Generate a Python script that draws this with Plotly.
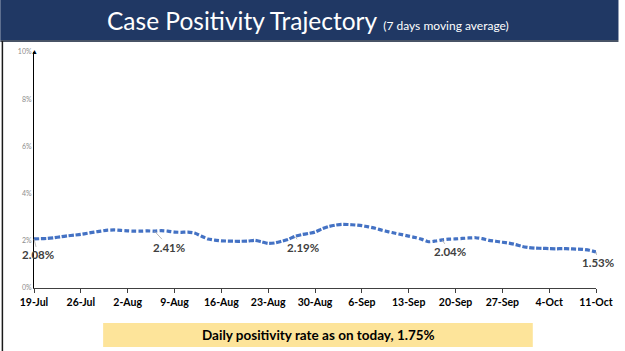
import plotly.graph_objects as go
import pandas as pd

start_date = "2020-07-19"
positivity = [
    2.08, 2.09, 2.10, 2.13, 2.17, 2.21, 2.24,
    2.27, 2.32, 2.37, 2.41, 2.45, 2.46, 2.44,
    2.42, 2.41, 2.41, 2.42, 2.41, 2.43, 2.41,
    2.37, 2.36, 2.37, 2.33, 2.20, 2.08, 2.03,
    2.00, 1.99, 1.98, 1.98, 1.99, 2.02, 1.96,
    1.89, 1.91, 1.98, 2.06, 2.19, 2.26, 2.31,
    2.37, 2.50, 2.60, 2.66, 2.70, 2.69, 2.67,
    2.64, 2.59, 2.53, 2.45, 2.38, 2.32, 2.26,
    2.20, 2.14, 2.06, 1.96, 1.99, 2.04, 2.07,
    2.08, 2.10, 2.12, 2.13, 2.09, 2.02, 1.98,
    1.94, 1.90, 1.84, 1.76, 1.71, 1.69, 1.68,
    1.67, 1.66, 1.67, 1.66, 1.65, 1.64, 1.60,
    1.53,
]
dates = pd.date_range(start_date, periods=len(positivity), freq="D")

tick_dates = pd.date_range(start_date, periods=13, freq="7D")
tick_labels = [d.strftime("%-d-%b") for d in tick_dates]

y_ticks = [0, 2, 4, 6, 8, 10]
y_tick_labels = ["0%", "2%", "4%", "6%", "8%", "10%"]

label_idx = [0, 18, 39, 61, 84]
label_offsets = [(4, 16), (15, 16), (8, 11), (8, 12), (2, 11)]

title_main = "Case Positivity Trajectory"
title_sub = "(7 days moving average)"
footer_text = "Daily positivity rate as on today, 1.75%"

fig = go.Figure()
fig.add_trace(go.Scatter(
    x=dates, y=positivity, mode="lines",
    line=dict(color="#4472c4", width=3.2, dash="5px,2px", shape="spline", smoothing=0.6),
    hoverinfo="skip", showlegend=False,
))

for i, (ax, ay) in zip(label_idx, label_offsets):
    fig.add_annotation(
        x=dates[i], y=positivity[i], text=f"{positivity[i]:.2f}%",
        showarrow=True, arrowhead=0, arrowwidth=0.8, arrowcolor="#a6a6a6",
        ax=ax, ay=ay, standoff=0, startstandoff=0,
        font=dict(family="Lato", size=11.5, color="#404040", weight="bold"),
    )

# Banner
fig.add_shape(type="rect", xref="paper", yref="paper", x0=-0.06, x1=1.04,
              y0=1.0 + 12/236, y1=1.0 + 52/236, fillcolor="#203864", line_width=0, layer="above")
fig.add_shape(type="line", xref="paper", yref="paper", x0=-0.06, x1=1.04,
              y0=1.0 + 11/236, y1=1.0 + 11/236, line=dict(color="#0b1a33", width=1.5))
# left border
fig.add_shape(type="line", xref="paper", yref="paper", x0=-32/569, x1=-32/569,
              y0=-63/236, y1=1.0 + 11/236, line=dict(color="#1a1a1a", width=1.5))

fig.add_annotation(
    xref="paper", yref="paper", x=(311 - 34) / 569, y=1.0 + 31/236,
    text=f"<span style='font-size:24.5px'>{title_main}</span>"
         f"<span style='font-size:12px'>  {title_sub}</span>",
    showarrow=False, font=dict(family="Lato", color="white"),
    xanchor="center", yanchor="middle",
)

# y axis arrow head
fig.add_annotation(
    x=dates[0], y=10, xref="x", yref="y", text="▲", showarrow=False,
    font=dict(size=7, color="#000000"), yshift=1,
)

# footer box
fig.add_shape(type="rect", xref="paper", yref="paper",
              x0=(104 - 34) / 569, x1=(539 - 34) / 569,
              y0=-(347 - 288) / 236, y1=-(323 - 288) / 236,
              fillcolor="#fde49a", line_width=0)
fig.add_annotation(
    xref="paper", yref="paper", x=(322 - 34) / 569, y=-(335 - 288) / 236,
    text=footer_text, showarrow=False, xanchor="center", yanchor="middle",
    font=dict(family="Lato", size=13.5, color="#000000", weight="bold"),
)

fig.update_layout(
    width=625, height=351,
    margin=dict(l=34, r=22, t=52, b=63),
    paper_bgcolor="white", plot_bgcolor="white",
    xaxis=dict(
        range=[dates[0], dates[-1]], tickvals=tick_dates, ticktext=tick_labels,
        showgrid=False, zeroline=False, showline=True, linecolor="#404040", linewidth=1,
        ticks="outside", ticklen=4, tickcolor="#404040",
        tickfont=dict(family="Lato", size=10.5, color="#000000", weight="bold"),
    ),
    yaxis=dict(
        range=[0, 10], tickvals=y_ticks, ticktext=y_tick_labels,
        showgrid=False, zeroline=False, showline=True, linecolor="#000000", linewidth=1,
        ticks="", tickfont=dict(family="Lato", size=7, color="#8c8c8c"),
    ),
)

fig.write_html("out.html")
